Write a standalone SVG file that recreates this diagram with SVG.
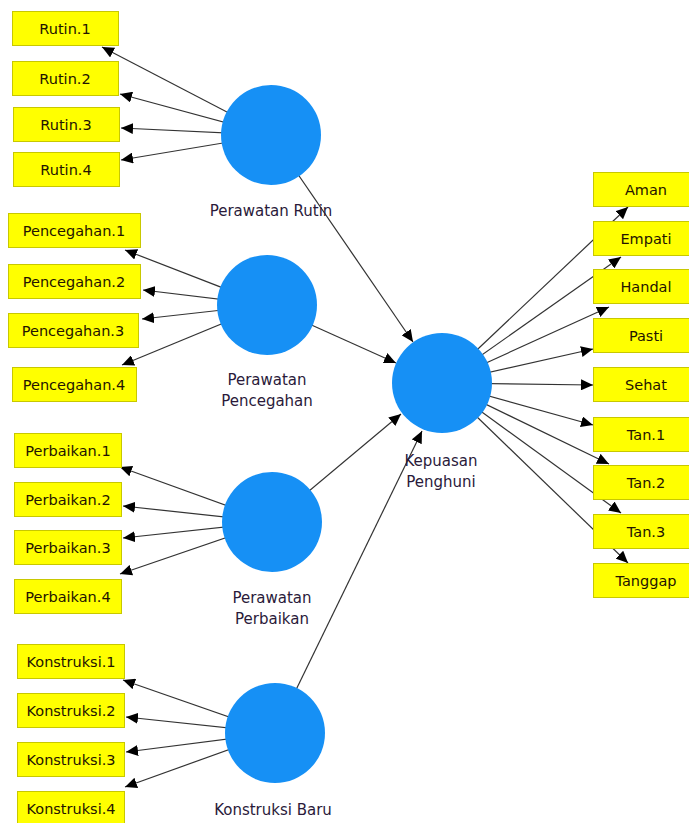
<svg xmlns="http://www.w3.org/2000/svg" width="689" height="823" viewBox="0 0 689 823">
<style>
.box rect{fill:#ffff00;stroke:#c8c800;stroke-width:1}
.box text{font-family:"DejaVu Sans",sans-serif;font-size:14.5px;fill:#241400;text-anchor:middle}
.lv circle{fill:#1690f5}
.lv text{font-family:"DejaVu Sans",sans-serif;font-size:15px;fill:#2a1a3a;text-anchor:middle}
#connectors line{stroke:#333;stroke-width:1.2;marker-end:url(#ah)}
</style>
<defs>
<marker id="ah" viewBox="0 0 12 11" refX="12" refY="5.5" markerWidth="12" markerHeight="11" markerUnits="userSpaceOnUse" orient="auto">
<path d="M0,0 L12,5.5 L0,11 z" fill="#000"/>
</marker>
</defs>
<rect width="689" height="823" fill="#fff"/>
<g id="connectors">
<line x1="271" y1="135" x2="102" y2="47"/>
<line x1="271" y1="135" x2="120" y2="94"/>
<line x1="271" y1="135" x2="121" y2="128"/>
<line x1="271" y1="135" x2="121" y2="160"/>
<line x1="267" y1="305" x2="125" y2="250"/>
<line x1="267" y1="305" x2="143" y2="290"/>
<line x1="267" y1="305" x2="142" y2="319"/>
<line x1="267" y1="305" x2="122" y2="365"/>
<line x1="272" y1="522" x2="120" y2="467"/>
<line x1="272" y1="522" x2="123" y2="506"/>
<line x1="272" y1="522" x2="123" y2="538"/>
<line x1="272" y1="522" x2="120" y2="574"/>
<line x1="275" y1="733" x2="123" y2="680"/>
<line x1="275" y1="733" x2="126" y2="717"/>
<line x1="275" y1="733" x2="126" y2="752"/>
<line x1="275" y1="733" x2="125" y2="787"/>
<line x1="271" y1="135" x2="413" y2="342"/>
<line x1="267" y1="305" x2="396" y2="363"/>
<line x1="272" y1="522" x2="401" y2="414"/>
<line x1="275" y1="733" x2="422" y2="431"/>
<line x1="442" y1="383" x2="628" y2="207"/>
<line x1="442" y1="383" x2="621" y2="257"/>
<line x1="442" y1="383" x2="609" y2="307"/>
<line x1="442" y1="383" x2="593" y2="349"/>
<line x1="442" y1="383" x2="593" y2="385"/>
<line x1="442" y1="383" x2="593" y2="425"/>
<line x1="442" y1="383" x2="609" y2="464"/>
<line x1="442" y1="383" x2="621" y2="513"/>
<line x1="442" y1="383" x2="628" y2="563"/>
</g>
<g id="lv-rutin" class="lv"><circle cx="271" cy="135" r="50"/><text x="271" y="216">Perawatan Rutin</text></g>
<g id="lv-pencegahan" class="lv"><circle cx="267" cy="305" r="50"/><text x="267" y="385">Perawatan</text><text x="267" y="406">Pencegahan</text></g>
<g id="lv-perbaikan" class="lv"><circle cx="272" cy="522" r="50"/><text x="272" y="603">Perawatan</text><text x="272" y="624">Perbaikan</text></g>
<g id="lv-konstruksi" class="lv"><circle cx="275" cy="733" r="50"/><text x="273" y="815">Konstruksi Baru</text></g>
<g id="lv-kepuasan" class="lv"><circle cx="442" cy="383" r="50"/><text x="441" y="466">Kepuasan</text><text x="441" y="487">Penghuni</text></g>
<g id="rutin1" class="box"><rect x="12.5" y="11.5" width="106" height="34"/><text x="65" y="34">Rutin.1</text></g>
<g id="rutin2" class="box"><rect x="12.5" y="61.5" width="106" height="34"/><text x="65" y="84">Rutin.2</text></g>
<g id="rutin3" class="box"><rect x="13.5" y="107.5" width="106" height="34"/><text x="66" y="130">Rutin.3</text></g>
<g id="rutin4" class="box"><rect x="13.5" y="152.5" width="106" height="34"/><text x="66" y="175">Rutin.4</text></g>
<g id="pencegahan1" class="box"><rect x="8.5" y="213.5" width="132" height="34"/><text x="74" y="236">Pencegahan.1</text></g>
<g id="pencegahan2" class="box"><rect x="8.5" y="264.5" width="132" height="34"/><text x="74" y="287">Pencegahan.2</text></g>
<g id="pencegahan3" class="box"><rect x="8.5" y="313.5" width="130" height="34"/><text x="73" y="336">Pencegahan.3</text></g>
<g id="pencegahan4" class="box"><rect x="12.5" y="367.5" width="124" height="34"/><text x="74" y="390">Pencegahan.4</text></g>
<g id="perbaikan1" class="box"><rect x="14.5" y="433.5" width="107" height="34"/><text x="68" y="456">Perbaikan.1</text></g>
<g id="perbaikan2" class="box"><rect x="14.5" y="482.5" width="107" height="34"/><text x="68" y="505">Perbaikan.2</text></g>
<g id="perbaikan3" class="box"><rect x="14.5" y="530.5" width="107" height="34"/><text x="68" y="553">Perbaikan.3</text></g>
<g id="perbaikan4" class="box"><rect x="14.5" y="579.5" width="107" height="34"/><text x="68" y="602">Perbaikan.4</text></g>
<g id="konstruksi1" class="box"><rect x="17.5" y="644.5" width="107" height="34"/><text x="71" y="667">Konstruksi.1</text></g>
<g id="konstruksi2" class="box"><rect x="17.5" y="693.5" width="107" height="34"/><text x="71" y="716">Konstruksi.2</text></g>
<g id="konstruksi3" class="box"><rect x="17.5" y="742.5" width="107" height="34"/><text x="71" y="765">Konstruksi.3</text></g>
<g id="konstruksi4" class="box"><rect x="17.5" y="791.5" width="107" height="34"/><text x="71" y="814">Konstruksi.4</text></g>
<g id="aman" class="box"><rect x="593.5" y="172.5" width="106" height="34"/><text x="646" y="195">Aman</text></g>
<g id="empati" class="box"><rect x="593.5" y="221.5" width="106" height="34"/><text x="646" y="244">Empati</text></g>
<g id="handal" class="box"><rect x="593.5" y="269.5" width="106" height="34"/><text x="646" y="292">Handal</text></g>
<g id="pasti" class="box"><rect x="593.5" y="318.5" width="106" height="34"/><text x="646" y="341">Pasti</text></g>
<g id="sehat" class="box"><rect x="593.5" y="367.5" width="106" height="34"/><text x="646" y="390">Sehat</text></g>
<g id="tan1" class="box"><rect x="593.5" y="417.5" width="106" height="34"/><text x="646" y="440">Tan.1</text></g>
<g id="tan2" class="box"><rect x="593.5" y="465.5" width="106" height="34"/><text x="646" y="488">Tan.2</text></g>
<g id="tan3" class="box"><rect x="593.5" y="514.5" width="106" height="34"/><text x="646" y="537">Tan.3</text></g>
<g id="tanggap" class="box"><rect x="593.5" y="563.5" width="106" height="34"/><text x="646" y="586">Tanggap</text></g>
</svg>
